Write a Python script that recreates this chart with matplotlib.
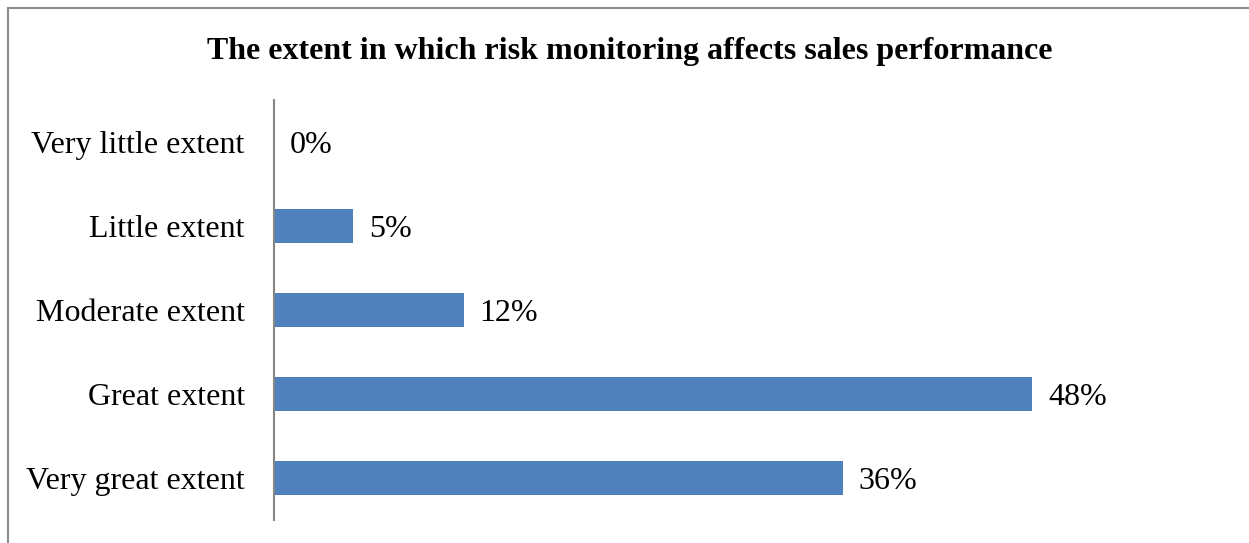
import matplotlib
matplotlib.use("Agg")
import matplotlib.pyplot as plt
from matplotlib.patches import Rectangle

categories = ["Very little extent", "Little extent", "Moderate extent", "Great extent", "Very great extent"]
values = [0, 5, 12, 48, 36]
labels = ["0%", "5%", "12%", "48%", "36%"]

plt.rcParams['font.family'] = ['Liberation Serif', 'DejaVu Serif']

W, H = 1249, 543
fig = plt.figure(figsize=(W / 100, H / 100), dpi=100)
fig.patches.append(Rectangle((7.5 / W, -0.1), 1.2, (1 - 8.5 / H) + 0.1, transform=fig.transFigure,
                             fill=False, edgecolor='#8c8c8c', linewidth=1.5))

ax = fig.add_axes([274 / W, 1 - 520 / H, (1222 - 274) / W, 420 / H])
pos = list(range(len(categories)))
ax.barh(pos, values, height=0.4, color='#4F81BD')
ax.set_ylim(len(categories) - 0.5, -0.5)
ax.set_xlim(0, 60)
ax.set_yticks(pos)
ax.set_yticklabels(categories, fontsize=23)
ax.tick_params(axis='y', length=0, pad=21)
ax.set_xticks([])
for s in ['top', 'right', 'bottom']:
    ax.spines[s].set_visible(False)
ax.spines['left'].set_color('#868686')
ax.spines['left'].set_linewidth(1.5)

for p, v, l in zip(pos, values, labels):
    ax.annotate(l, (v, p), xytext=(11.5, -2.5), textcoords='offset points',
                va='center', ha='left', fontsize=23)

fig.text(630 / W, 1 - 51 / H, "The extent in which risk monitoring affects sales performance",
         ha='center', va='center', fontsize=23, fontweight='bold')

fig.savefig("out.png", dpi=100)
